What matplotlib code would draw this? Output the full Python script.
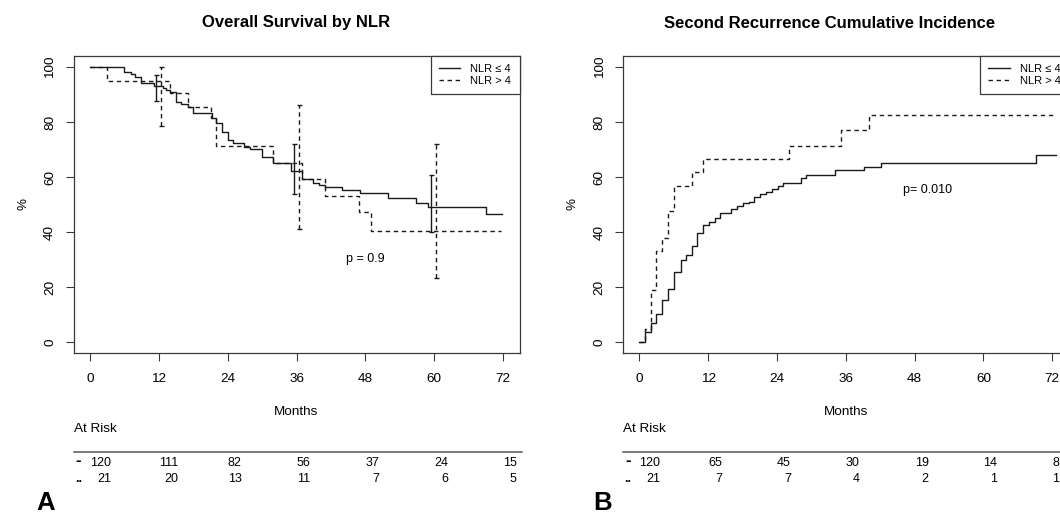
import matplotlib
matplotlib.use("Agg")
import matplotlib.pyplot as plt
import matplotlib.transforms as mtransforms
from matplotlib.lines import Line2D

plt.rcParams['font.family'] = ['Liberation Sans', 'DejaVu Sans']

# ---------------- data ----------------
titles = ["Overall Survival by NLR", "Second Recurrence Cumulative Incidence"]
group_labels = ["NLR \u2264 4", "NLR > 4"]
x_ticks = [0, 12, 24, 36, 48, 60, 72]
y_ticks = [0, 20, 40, 60, 80, 100]

# Panel A: overall survival (%), step functions (time in months)
os_low_t = [0, 5.9, 7.1, 7.9, 8.9, 11.1, 12.7, 13.3, 14.0, 14.9, 15.9, 17.0, 17.9,
            21.2, 22.0, 23.0, 24.0, 24.9, 26.8, 27.8, 29.9, 31.9, 35.0, 36.9, 38.9,
            39.9, 41.0, 44.0, 47.0, 52.0, 56.9, 59.0, 69.0, 71.9]
os_low_s = [100, 98.3, 97.4, 96.5, 94.1, 93.1, 92.5, 91.6, 91.0, 87.4, 86.4, 85.3, 83.4,
            81.3, 79.5, 76.5, 73.4, 72.3, 71.0, 70.1, 67.4, 65.2, 62.3, 59.1, 57.9,
            57.1, 56.5, 55.3, 54.1, 52.5, 50.7, 49.2, 46.6, 46.6]
os_high_t = [0, 2.9, 14.0, 17.0, 21.0, 22.0, 31.9, 37.0, 41.0, 46.9, 49.0, 71.6]
os_high_s = [100, 95.0, 90.4, 85.6, 81.3, 71.3, 65.2, 59.1, 53.2, 47.4, 40.5, 40.5]

# confidence intervals at 12, 36, 60 months
ci_times = [12, 36, 60]
os_low_lo = [87.6, 53.8, 40.1]
os_low_hi = [97.1, 71.9, 60.7]
os_high_lo = [78.5, 41.0, 23.2]
os_high_hi = [100.0, 86.2, 71.9]

# Panel B: cumulative incidence (%)
ci_low_t = [0, 0.97, 1.96, 2.95, 4.0, 5.05, 6.04, 7.2, 8.2, 9.1, 10.1, 11.1, 12.15, 13.1,
            14.1, 16.05, 17.1, 18.1, 19.1, 20.0, 21.0, 22.05, 23.05, 24.1, 25.1, 28.1,
            29.05, 34.1, 39.1, 42.2, 69.2, 72.7]
ci_low_s = [0, 3.6, 6.8, 10.1, 15.3, 19.3, 25.3, 29.8, 31.6, 35.0, 39.5, 42.6, 43.5, 45.0,
            46.8, 48.4, 49.6, 50.4, 51.0, 52.6, 53.7, 54.7, 55.6, 56.7, 57.7, 59.8,
            60.6, 62.5, 63.8, 65.0, 68.0, 68.0]
ci_high_t = [0, 0.97, 1.96, 2.95, 4.0, 5.05, 6.04, 9.1, 11.1, 26.1, 35.2, 40.1, 72.5]
ci_high_s = [0, 4.8, 19.0, 33.1, 38.0, 47.5, 56.9, 61.7, 66.5, 71.4, 77.0, 82.5, 82.5]

p_texts = ["p = 0.9", "p= 0.010"]
p_pos = [(44.7, 30.1), (46.0, 55.3)]

risk_times = [0, 12, 24, 36, 48, 60, 72]
os_risk_low = [120, 111, 82, 56, 37, 24, 15]
os_risk_high = [21, 20, 13, 11, 7, 6, 5]
ci_risk_low = [120, 65, 45, 30, 19, 14, 8]
ci_risk_high = [21, 7, 7, 4, 2, 1, 1]
panel_letters = ["A", "B"]

# ---------------- layout ----------------
W, H = 1060, 514
fig = plt.figure(figsize=(W / 100, H / 100), dpi=100)


def fy(y):
    return 1 - y / H


def box(l, r, t, b):
    return [l / W, 1 - b / H, (r - l) / W, (b - t) / H]


ax1 = fig.add_axes(box(73.6, 519.5, 56, 353))
ax2 = fig.add_axes(box(622.9, 1068.8, 56, 353))

LC = '#1a1a1a'
SC = '#3a3a3a'
DASH = (0, (3.2, 2.6))

panels = [
    (ax1, os_low_t, os_low_s, os_high_t, os_high_s, os_risk_low, os_risk_high, 296.4),
    (ax2, ci_low_t, ci_low_s, ci_high_t, ci_high_s, ci_risk_low, ci_risk_high, 830.0),
]

fig.canvas.draw()
pending = []

for i, (ax, t1, s1, t2, s2, r1, r2, title_x) in enumerate(panels):
    ax.step(t1, s1, where='post', color=LC, lw=1.0)
    ax.step(t2, s2, where='post', color=LC, lw=1.0, linestyle=DASH)
    ax.set_xlim(-2.88, 74.88)
    ax.set_ylim(-4, 104)
    ax.set_xticks(x_ticks)
    ax.set_yticks(y_ticks)
    ax.set_yticklabels([str(v) for v in y_ticks], rotation=90, va='center')
    ax.tick_params(axis='both', direction='out', length=5.5, width=0.8, color=SC,
                   labelsize=9.7)
    ax.tick_params(axis='x', pad=9)
    ax.tick_params(axis='y', pad=7)
    for sp in ax.spines.values():
        sp.set_color(SC)
        sp.set_linewidth(0.9)

    ax.set_ylabel('%', fontsize=9.7, va='center')
    ax.yaxis.set_label_coords((23 - 73.6) / 446, 0.5)
    ax.set_xlabel('Months', fontsize=9.7, va='center')
    ax.xaxis.set_label_coords(0.5, (353 - 412) / 297)

    fig.text(title_x / W, fy(23), titles[i], ha='center', va='center',
             fontsize=12, fontweight='bold')

    px, py = p_pos[i]
    ax.text(px, py, p_texts[i], ha='left', va='center', fontsize=9)

    handles = [Line2D([], [], color=LC, lw=1.0),
               Line2D([], [], color=LC, lw=1.0, linestyle=DASH)]
    leg = ax.legend(handles, group_labels, loc='upper right', bbox_to_anchor=(1, 1),
                    borderaxespad=0, fancybox=False, edgecolor=SC, framealpha=1,
                    fontsize=8, handlelength=1.9, handletextpad=0.9, borderpad=0.75,
                    labelspacing=0.15)
    leg.get_frame().set_linewidth(0.9)

    # risk table
    bt = mtransforms.blended_transform_factory(ax.transData, fig.transFigure)
    ba = mtransforms.blended_transform_factory(ax.transAxes, fig.transFigure)
    ax.text(0, fy(429), 'At Risk', transform=ba, ha='left', va='center', fontsize=9.7)
    ax.plot([0, 1.006], [fy(452), fy(452)], transform=ba, color='#555555', lw=1.1,
            clip_on=False)
    ax.text(0.005, fy(460), '-', transform=ba, ha='left', va='center', fontsize=12,
            fontweight='bold')
    ax.text(0.003, fy(479), '..', transform=ba, ha='left', va='center', fontsize=9,
            fontweight='bold')
    for t, v1, v2 in zip(risk_times, r1, r2):
        txt = ax.text(t, fy(462.5), str(v1), transform=bt, ha='left', va='center',
                      fontsize=9)
        pending.append((txt, v2))

    fig.text([36, 593][i] / W, fy(510.5), panel_letters[i], ha='left', va='baseline',
             fontsize=18.5, fontweight='bold')

# error bars (panel A)
for lo, hi, dx, ls in [(os_low_lo, os_low_hi, -0.5, '-'), (os_high_lo, os_high_hi, 0.4, '--')]:
    xs = [t + dx for t in ci_times]
    mids = [(a + b) / 2 for a, b in zip(lo, hi)]
    half = [(b - a) / 2 for a, b in zip(lo, hi)]
    cont = ax1.errorbar(xs, mids, yerr=half, fmt='none', ecolor=LC, elinewidth=1.0,
                        capsize=1.8, capthick=1.0)
    if ls == '--':
        cont[2][0].set_linestyle(DASH)

fig.canvas.draw()
renderer = fig.canvas.get_renderer()
for txt, v2 in pending:
    bb = txt.get_window_extent(renderer)
    fig.text(bb.x1 / fig.bbox.width, fy(478.5), str(v2), ha='right', va='center',
             fontsize=9)

fig.savefig('out.png', dpi=100)
